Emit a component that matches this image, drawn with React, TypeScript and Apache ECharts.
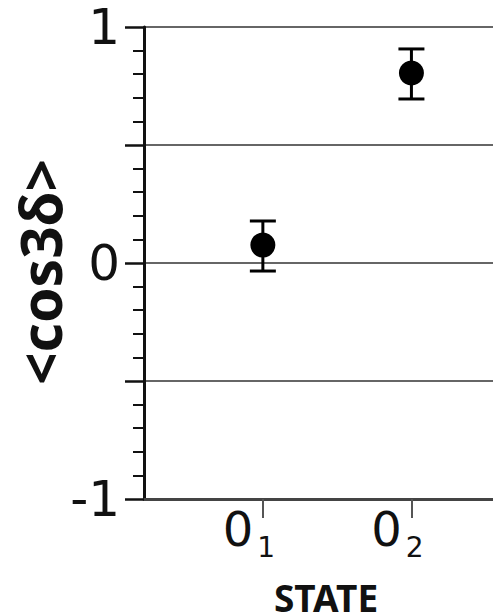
import React, { useEffect, useRef } from "react";
import * as echarts from "echarts";

const statePositions = [1, 2];
const stateMain = ["0", "0"];
const stateSub = ["1", "2"];
const means = [0.076, 0.805];
const errLow = [0.11, 0.11];
const errHigh = [0.102, 0.102];
const yLabelValues = [-1, 0, 1];
const xName = "STATE";
const yName = "<cos3δ>";

export default function App() {
  const ref = useRef<HTMLDivElement>(null);
  useEffect(() => {
    if (!ref.current) return;
    const chart = echarts.init(ref.current, null, { renderer: "svg" });
    const pointData = statePositions.map((x, i) => [x, means[i]]);
    const errData = statePositions.map((x, i) => [x, means[i] - errLow[i], means[i] + errHigh[i]]);
    chart.setOption({
      animation: false,
      backgroundColor: "#ffffff",
      grid: { left: 144, top: 27, bottom: 116, right: -15, containLabel: false, outerBoundsMode: "none" },
      xAxis: {
        type: "value",
        min: 0.2,
        max: 2.65,
        name: xName,
        nameLocation: "middle",
        nameGap: 84,
        nameMoveOverlap: false,
        nameTextStyle: { fontFamily: "Noto Sans", fontWeight: "bold", fontSize: 37, lineHeight: 28, color: "#111" },
        axisLine: { show: true, onZero: false, lineStyle: { color: "#444", width: 3 } },
        axisTick: { show: true, customValues: statePositions, length: 19, lineStyle: { color: "#555", width: 2 } },
        splitLine: { show: false },
        axisLabel: {
          customValues: statePositions,
          margin: 6,
          padding: [0, 28, 0, 0],
          formatter: (v: number) => {
            const i = statePositions.indexOf(v);
            if (i < 0) return "";
            return `{a|${stateMain[i]}}{b|${stateSub[i]}}`;
          },
          rich: {
            a: { fontFamily: "DejaVu Sans", fontSize: 48, lineHeight: 48, color: "#111", verticalAlign: "middle" },
            b: { fontFamily: "DejaVu Sans", fontSize: 28, lineHeight: 20, color: "#111", verticalAlign: "middle", padding: [36, 0, 0, 4] },
          },
        },
      },
      yAxis: {
        type: "value",
        min: -1,
        max: 1,
        interval: 0.5,
        name: yName,
        nameLocation: "middle",
        nameGap: 79,
        nameRotate: 90,
        nameMoveOverlap: false,
        nameTextStyle: { fontFamily: "Noto Sans", fontWeight: "bold", fontSize: 57, lineHeight: 50, color: "#111", padding: [0, 18, 0, 0] },
        axisLine: { show: true, onZero: false, lineStyle: { color: "#111", width: 3 } },
        axisTick: { show: true, length: 19, lineStyle: { color: "#111", width: 2.5 } },
        minorTick: { show: true, splitNumber: 5, length: 11, lineStyle: { color: "#111", width: 2 } },
        splitLine: { show: true, lineStyle: { color: "#666", width: 2.2 } },
        axisLabel: {
          margin: 24,
          fontFamily: "DejaVu Sans",
          fontSize: 50,
          lineHeight: 40,
          color: "#111",
          formatter: (v: number) => {
            const r = Math.round(v * 1000) / 1000;
            if (!yLabelValues.includes(r)) return "";
            return r < 0 ? "-" + Math.abs(r) : String(r);
          },
        },
      },
      series: [
        {
          type: "custom",
          data: errData,
          renderItem: (params: any, api: any) => {
            const x = api.value(0);
            const lo = api.coord([x, api.value(1)]);
            const hi = api.coord([x, api.value(2)]);
            const half = 13;
            const style = { stroke: "#000", lineWidth: 3 };
            return {
              type: "group",
              children: [
                { type: "line", shape: { x1: lo[0], y1: lo[1], x2: hi[0], y2: hi[1] }, style },
                { type: "line", shape: { x1: lo[0] - half, y1: lo[1], x2: lo[0] + half, y2: lo[1] }, style },
                { type: "line", shape: { x1: hi[0] - half, y1: hi[1], x2: hi[0] + half, y2: hi[1] }, style },
              ],
            };
          },
          z: 3,
        },
        {
          type: "scatter",
          data: pointData,
          symbol: "circle",
          symbolSize: 25,
          itemStyle: { color: "#000", opacity: 1 },
          z: 4,
        },
      ],
    });
    return () => chart.dispose();
  }, []);
  return (
    <div
      ref={ref}
      style={{ position: "fixed", left: 0, top: 0, width: 493, height: 615, background: "#fff" }}
    />
  );
}
